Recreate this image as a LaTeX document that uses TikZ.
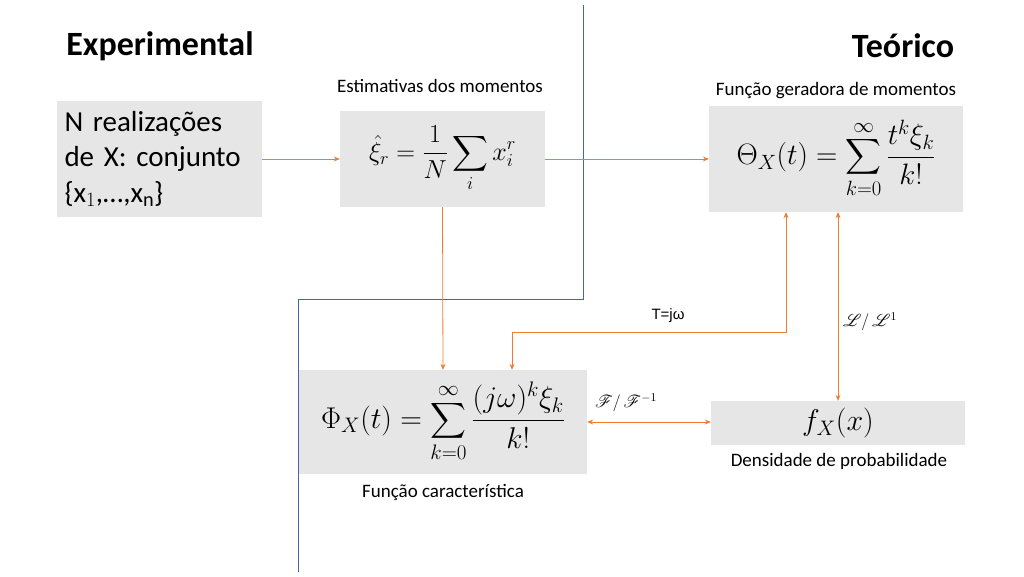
\RequirePackage{fix-cm}
\documentclass[tikz,border=0pt]{standalone}
\usepackage{fontspec}
\usepackage{amsmath}
\usepackage{mathrsfs}
\setmainfont{Carlito}
\newfontfamily\arialfont{Liberation Sans}
\usetikzlibrary{positioning,calc,arrows.meta}

\definecolor{boxgray}{RGB}{231,230,230}
\definecolor{linkorange}{RGB}{237,125,49}
\definecolor{splitblue}{RGB}{68,100,176}

\tikzset{
	blk/.style={fill=boxgray, inner sep=0pt, align=center},
	lnk/.style={draw=linkorange, line width=0.8pt, -{Stealth[length=6pt,width=5pt]}},
	dbl/.style={draw=linkorange, line width=0.8pt, {Stealth[length=6pt,width=5pt]}-{Stealth[length=6pt,width=5pt]}},
	lbl/.style={font=\fontsize{19}{22}\selectfont, inner sep=1pt},
	title/.style={font=\fontsize{34}{38}\selectfont\bfseries, inner sep=1pt}
}

\begin{document}
\begin{tikzpicture}[x=1pt, y=-1pt]
	\useasboundingbox (0,0) rectangle (1024,576);

	% divider between the two sides
	\draw [splitblue, line width=0.9pt] (583,5) -- (583,299) -- (298,299) -- (298,572);

	\node [title] (exp) at (160,46) {Experimental};
	\node [title] (teo) at (903,46) {Teórico};

	\node [blk, minimum width=205pt, minimum height=116pt, text width=190pt, align=left,
		font=\fontsize{29}{35.5}\selectfont] (real) at (159.5,159)
		{N realizações\\de X: conjunto\\\{x$_1$,\dots,x$_\text{n}$\}};
	\node [blk, minimum width=205pt, minimum height=96pt, font=\fontsize{26}{29}\selectfont] (est) at (442.5,159)
		{$\displaystyle \hat{\xi}_r=\frac{1}{N}\sum_i x_i^r$};
	\node [blk, minimum width=254pt, minimum height=106pt, font=\fontsize{29.5}{33}\selectfont] (theta) at (836,159)
		{$\displaystyle \Theta_X(t)=\sum_{k=0}^{\infty}\frac{t^k\xi_k}{k!}$};
	\node [blk, minimum width=288pt, minimum height=104pt, font=\fontsize{30}{34}\selectfont] (phi) at (443,422)
		{$\displaystyle \Phi_X(t)=\sum_{k=0}^{\infty}\frac{(j\omega)^k\xi_k}{k!}$};
	\node [blk, minimum width=254pt, minimum height=44pt, font=\fontsize{30}{34}\selectfont] (fx) at (838,423)
		{$f_X(x)$};

	\node [lbl] (estlbl) at (440,86) {Estimativas dos momentos};
	\node [lbl] (thetalbl) at (836,91) {Função geradora de momentos};
	\node [lbl] (philbl) at (443,493) {Função característica};
	\node [lbl] (fxlbl) at (839,461) {Densidade de probabilidade};

	\draw [lnk] (real) -- (est);
	\draw [lnk] (est) -- (theta);
	\draw [lnk] (est.south) -- (phi.north);
	\draw [dbl] ([xshift=69pt]phi.north) -- ++(0,-37) -| ([xshift=-50pt]theta.south);
	\draw [dbl] (theta.south -| fx.north) -- (fx.north);
	\draw [dbl] (phi.east) -- (phi.east -| fx.west);

	\node [lbl, font=\arialfont\fontsize{15}{18}\selectfont] (tjw) at (668,316) {T=jω};
	\node [lbl, font=\fontsize{17}{20}\selectfont] (lap) at (870,322) {$\mathscr{L}/\,\mathscr{L}^{1}$};
	\node [lbl, font=\fontsize{17}{20}\selectfont] (fou) at (626,403) {$\mathscr{F}/\,\mathscr{F}^{-1}$};
\end{tikzpicture}
\end{document}
